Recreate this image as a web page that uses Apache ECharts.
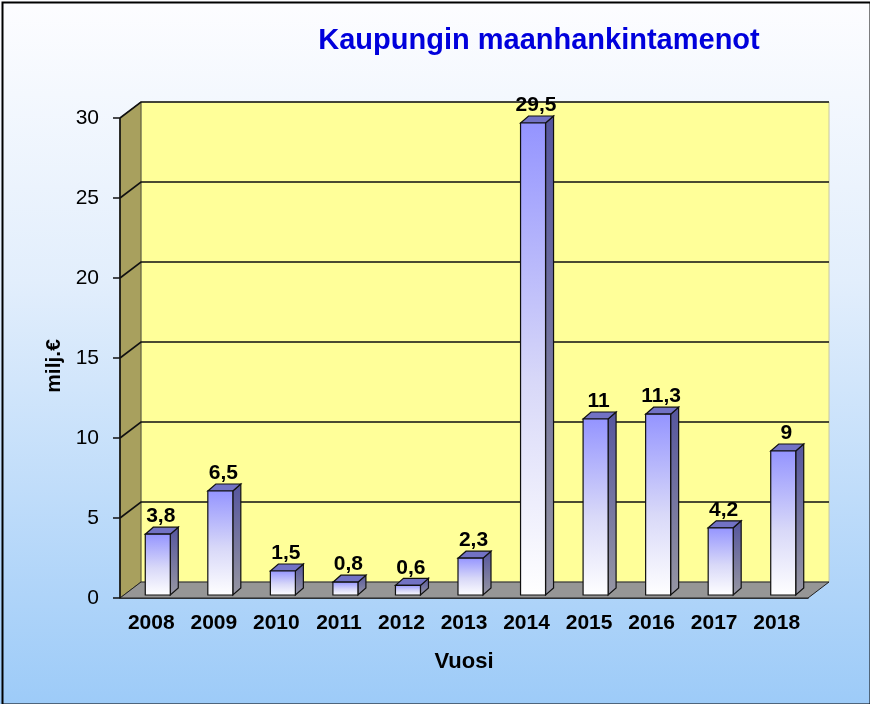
<!DOCTYPE html>
<html>
<head>
<meta charset="utf-8">
<script src="https://cdn.jsdelivr.net/npm/echarts@6/dist/echarts.min.js"></script>
<style>
html,body{margin:0;padding:0;}
#chart{width:870px;height:704px;}
</style>
</head>
<body>
<div id="chart"></div>
<script>
// vuodet ja maanhankintamenot (milj. €)
var years = ['2008','2009','2010','2011','2012','2013','2014','2015','2016','2017','2018'];
var values = [3.8, 6.5, 1.5, 0.8, 0.6, 2.3, 29.5, 11, 11.3, 4.2, 9];
var yTicks = [0, 5, 10, 15, 20, 25, 30];

var DX = 21, DY = -16;   // syvyys (3D)
var BAR_W = 25, BAR_DX = 8, BAR_DY = -7;
var FONT = 'Arial, "Liberation Sans"';

function fmt(v){ return String(v).replace('.', ','); }

var chart = echarts.init(document.getElementById('chart'));

function wallItem(params, api){
	var c = params.coordSys;
	var x = c.x, y = c.y, w = c.width, h = c.height;
	var kids = [];
	kids.push({type:'polygon', shape:{points:[[x+DX,y+DY],[x+w+DX,y+DY],[x+w+DX,y+h+DY],[x+DX,y+h+DY]]},
		style:{fill:'#ffff99', stroke:'#c8c8a0', lineWidth:1}});
	kids.push({type:'polygon', shape:{points:[[x,y],[x+DX,y+DY],[x+DX,y+h+DY],[x,y+h]]},
		style:{fill:'#a8a05e', stroke:'#555530', lineWidth:1}});
	kids.push({type:'polygon', shape:{points:[[x,y+h],[x+DX,y+h+DY],[x+w+DX,y+h+DY],[x+w,y+h]]},
		style:{fill:'#969696', stroke:'#222', lineWidth:1}});
	// ruudukko takaseinällä
	yTicks.forEach(function(t){
		if(t === 0) return;
		var py = api.coord([0, t])[1];
		kids.push({type:'polyline', shape:{points:[[x,py],[x+DX,py+DY],[x+w+DX,py+DY]]},
			style:{stroke:'#111', lineWidth:1.6, fill:null}});
	});
	kids.push({type:'line', shape:{x1:x, y1:y, x2:x, y2:y+h}, style:{stroke:'#111', lineWidth:1.6}});
	return {type:'group', children:kids};
}

function barItem(params, api){
	var i = api.value(0), v = api.value(1);
	var base = api.coord([i, 0]);
	var top = api.coord([i, v]);
	var cx = base[0] + 6.5;
	var x0 = cx - BAR_W/2, x1 = cx + BAR_W/2;
	var yb = base[1] - 3, yt = top[1] - 3;
	var front = new echarts.graphic.LinearGradient(0,0,0,1,[
		{offset:0, color:'#9494ff'},{offset:0.55, color:'#d8d8f8'},{offset:1, color:'#ffffff'}]);
	var side = new echarts.graphic.LinearGradient(0,0,0,1,[
		{offset:0, color:'#55559e'},{offset:1, color:'#9696a2'}]);
	return {type:'group', children:[
		{type:'polygon', shape:{points:[[x1,yt],[x1+BAR_DX,yt+BAR_DY],[x1+BAR_DX,yb+BAR_DY],[x1,yb]]},
			style:{fill:side, stroke:'#111', lineWidth:1.2}},
		{type:'polygon', shape:{points:[[x0,yt],[x0+BAR_DX,yt+BAR_DY],[x1+BAR_DX,yt+BAR_DY],[x1,yt]]},
			style:{fill:'#7272c4', stroke:'#111', lineWidth:1.2}},
		{type:'rect', shape:{x:x0, y:yt, width:BAR_W, height:yb-yt},
			style:{fill:front, stroke:'#111', lineWidth:1.2}},
		{type:'text', x:cx+3, y:yt+BAR_DY,
			style:{text:fmt(v), fill:'#000', font:'bold 21px ' + FONT, align:'center', verticalAlign:'bottom'}}
	]};
}

var option = {
	backgroundColor: new echarts.graphic.LinearGradient(0,0,0,1,[
		{offset:0, color:'#fdfdff'},{offset:0.4, color:'#e2eefc'},{offset:1, color:'#9dcbf8'}]),
	animation:false,
	title:{
		text:'Kaupungin maanhankintamenot',
		left:534, top:21, textAlign:'center',
		textStyle:{color:'#0000dc', fontSize:29, fontWeight:'bold', fontFamily:FONT}
	},
	grid:{left:120, right:62, top:118, bottom:106},
	xAxis:{
		type:'category',
		data:years,
		name:'Vuosi',
		nameLocation:'middle',
		nameGap:53,
		nameTextStyle:{color:'#000', fontSize:22, fontWeight:'bold', fontFamily:FONT},
		axisLine:{lineStyle:{color:'#111', width:1.5}},
		axisTick:{length:7, lineStyle:{color:'#111', width:1.5}},
		axisLabel:{color:'#000', fontSize:21, fontWeight:'bold', fontFamily:FONT, margin:15}
	},
	yAxis:{
		type:'value',
		min:0, max:30, interval:5,
		name:'milj.€',
		nameLocation:'middle',
		nameRotate:90,
		nameGap:52,
		nameTextStyle:{color:'#000', fontSize:21, fontWeight:'bold', fontFamily:FONT, padding:[0,16,0,0]},
		axisLine:{show:false},
		axisTick:{show:true, length:7, lineStyle:{color:'#111', width:1.5}},
		splitLine:{show:false},
		axisLabel:{color:'#000', fontSize:21, fontFamily:FONT, margin:21}
	},
	graphic:[{type:'rect', left:0, top:0, shape:{x:1, y:1, width:868, height:702},
		style:{fill:null, stroke:'#000', lineWidth:2}, z:100}],
	series:[
		{type:'custom', data:[[0,0]], renderItem:wallItem, silent:true, z:1, clip:false},
		{type:'custom', data:values.map(function(v,i){return [i,v];}), renderItem:barItem, z:5, clip:false}
	]
};
chart.setOption(option);
</script>
</body>
</html>
